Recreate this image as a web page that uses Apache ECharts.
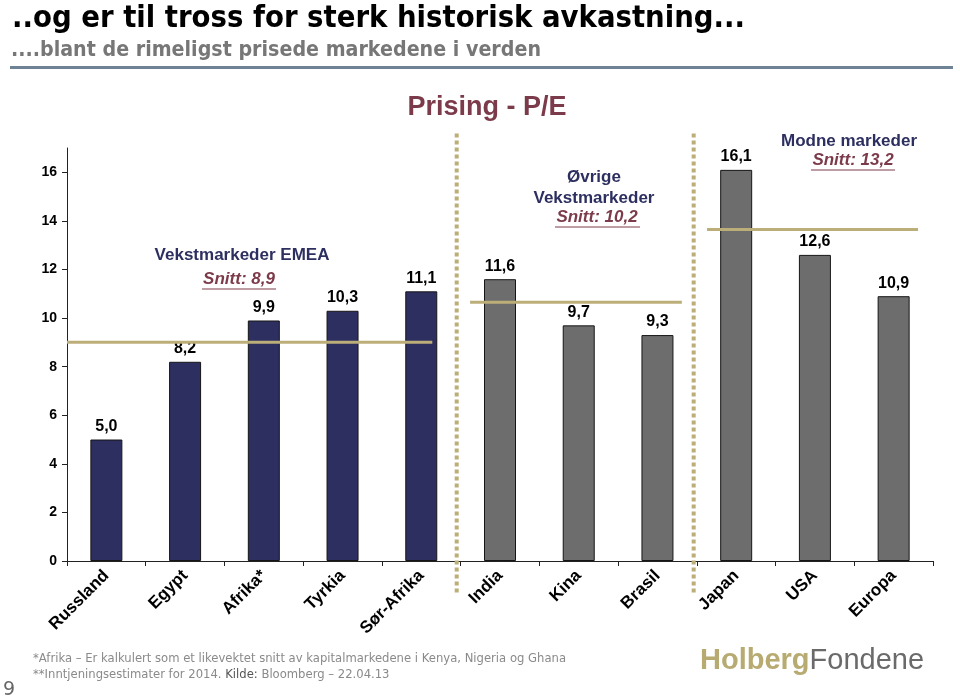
<!DOCTYPE html>
<html>
<head>
<meta charset="utf-8">
<script src="https://cdn.jsdelivr.net/npm/echarts@6/dist/echarts.min.js"></script>
<style>html,body{margin:0;padding:0;background:#fff}#c{width:960px;height:700px}</style>
</head>
<body>
<div id="c"></div>
<script>
// ---- data ----
const categories = ['Russland','Egypt','Afrika*','Tyrkia','Sør-Afrika','India','Kina','Brasil','Japan','USA','Europa'];
const peValues = [5.0, 8.2, 9.9, 10.3, 11.1, 11.6, 9.7, 9.3, 16.1, 12.6, 10.9];
const groupOfCategory = [0,0,0,0,0,1,1,1,2,2,2];
const yTicks = [0,2,4,6,8,10,12,14,16];
// average lines (level as drawn, span in category units from axis start)
const avgLevels = [9.0, 10.65, 13.65];
const avgStart = [0.0, 5.12, 8.13];
const avgEnd = [4.64, 7.81, 10.81];
// dotted group separators (category units from axis start), vertical extent in y-values
const separatorPos = [4.95, 7.96];
const separatorSpan = [-1.3, 17.65];
const groupNames = ['Vekstmarkeder EMEA', 'Øvrige\nVekstmarkeder', 'Modne markeder'];
const groupAvgText = ['Snitt: 8,9', 'Snitt: 10,2', 'Snitt: 13,2'];

const NAVY = '#2d2f60', GREY = '#6d6d6d', KHAKI = '#bcae78', MAROON = '#7c3b4a';
const barColors = [NAVY, GREY, GREY];

const barData = peValues.map((v, i) => ({
  value: v,
  itemStyle: { color: barColors[groupOfCategory[i]] }
}));

const lineSeries = [];
avgLevels.forEach((lv, i) => {
  lineSeries.push({
    type: 'line', xAxisIndex: 1, yAxisIndex: 0, symbol: 'none', silent: true,
    data: [[avgStart[i], lv], [avgEnd[i], lv]],
    lineStyle: { color: KHAKI, width: 3 }, z: 5, animation: false
  });
});
separatorPos.forEach((x) => {
  lineSeries.push({
    type: 'line', xAxisIndex: 1, yAxisIndex: 0, symbol: 'none', silent: true, clip: false,
    data: [[x, separatorSpan[0]], [x, separatorSpan[1]]],
    lineStyle: { color: KHAKI, width: 4, type: [4, 3], cap: 'butt' }, z: 6, animation: false
  });
});

const FONT = 'Liberation Sans, Arial, sans-serif';
const DJ = 'DejaVu Sans, sans-serif';

// fit text to a target width by horizontal scaling
const mctx = document.createElement('canvas').getContext('2d');
function fitScale(text, font, width) {
  mctx.font = font;
  return width / mctx.measureText(text).width;
}
const titleText = '..og er til tross for sterk historisk avkastning...';
const titleFont = 'bold 31px ' + DJ;
const subText = '....blant de rimeligst prisede markedene i verden';
const subFont = 'bold 22px ' + DJ;
const foot1 = '*Afrika – Er kalkulert som et likevektet snitt av kapitalmarkedene i Kenya, Nigeria og Ghana';
const foot2a = '**Inntjeningsestimater for 2014. ';
const foot2b = 'Kilde:';
const foot2c = ' Bloomberg – 22.04.13';
const footFont = '13px ' + DJ;
const fScale = fitScale(foot1, footFont, 533);

const chart = echarts.init(document.getElementById('c'), null, { renderer: 'canvas' });
chart.setOption({
  animation: false,
  backgroundColor: '#fff',
  grid: { left: 67, right: 27, top: 148, bottom: 139, containLabel: false },
  xAxis: [{
    type: 'category', data: categories,
    axisLine: { lineStyle: { color: '#222', width: 1 } },
    axisTick: { show: true, length: 5, lineStyle: { color: '#222' } },
    axisLabel: { rotate: 45, margin: 12, fontFamily: FONT, fontWeight: 'bold', fontSize: 17, color: '#000', interval: 0 }
  }, {
    type: 'value', min: 0, max: 11, show: false
  }],
  yAxis: {
    type: 'value', min: 0, max: 17, interval: 2,
    axisLine: { show: true, lineStyle: { color: '#222', width: 1 } },
    axisTick: { show: true, length: 5, lineStyle: { color: '#222' }, customValues: yTicks },
    axisLabel: { fontFamily: FONT, fontWeight: 'bold', fontSize: 14, color: '#000', margin: 10, customValues: yTicks },
    splitLine: { show: false }
  },
  title: [{
    text: 'Prising - P/E',
    left: 482, top: 89, textAlign: 'center',
    textStyle: { fontFamily: FONT, fontWeight: 'bold', fontSize: 27, color: MAROON }
  }],
  series: [{
    type: 'bar', data: barData, barWidth: 32, z: 3,
    itemStyle: { borderColor: '#161616', borderWidth: 1 },
    label: {
      show: true, position: 'top', distance: 5,
      fontFamily: FONT, fontWeight: 'bold', fontSize: 16, color: '#000',
      formatter: p => p.value.toFixed(1).replace('.', ',')
    }
  }].concat(lineSeries),
  graphic: [
    // titles
    { type: 'text', x: 12, y: 3, scaleX: fitScale(titleText, titleFont, 733), style: { text: titleText, font: titleFont, fill: '#000', verticalAlign: 'top' } },
    { type: 'text', x: 11, y: 39, scaleX: fitScale(subText, subFont, 530), style: { text: subText, font: subFont, fill: '#777', verticalAlign: 'top' } },
    // divider under subtitle
    { type: 'rect', shape: { x: 10, y: 66, width: 943, height: 3 }, style: { fill: '#6f8396' } },
    // group annotations
    { type: 'text', x: 242, y: 255, style: { text: groupNames[0], font: 'bold 17px ' + FONT, fill: NAVY, align: 'center', verticalAlign: 'middle' } },
    { type: 'text', x: 239, y: 279, style: { text: groupAvgText[0], font: 'italic bold 17px ' + FONT, fill: MAROON, align: 'center', verticalAlign: 'middle' } },
    { type: 'line', shape: { x1: 202, y1: 289, x2: 276, y2: 289 }, style: { stroke: MAROON, lineWidth: 1 } },
    { type: 'text', x: 594, y: 188, style: { text: groupNames[1], font: 'bold 17px ' + FONT, fill: NAVY, align: 'center', verticalAlign: 'middle', lineHeight: 21 } },
    { type: 'text', x: 597, y: 217, style: { text: groupAvgText[1], font: 'italic bold 17px ' + FONT, fill: MAROON, align: 'center', verticalAlign: 'middle' } },
    { type: 'line', shape: { x1: 555, y1: 227, x2: 640, y2: 227 }, style: { stroke: MAROON, lineWidth: 1 } },
    { type: 'text', x: 849, y: 141, style: { text: groupNames[2], font: 'bold 17px ' + FONT, fill: NAVY, align: 'center', verticalAlign: 'middle' } },
    { type: 'text', x: 853, y: 160, style: { text: groupAvgText[2], font: 'italic bold 17px ' + FONT, fill: MAROON, align: 'center', verticalAlign: 'middle' } },
    { type: 'line', shape: { x1: 811, y1: 170, x2: 895, y2: 170 }, style: { stroke: MAROON, lineWidth: 1 } },
    // footnotes
    { type: 'text', x: 33, y: 659, scaleX: fScale, style: { text: foot1, font: footFont, fill: '#8a8a8a', verticalAlign: 'middle' } },
    { type: 'text', x: 33, y: 675, scaleX: fScale, style: { text: '{a|' + foot2a + '}{b|' + foot2b + '}{a|' + foot2c + '}', rich: { a: { font: footFont, fill: '#8a8a8a' }, b: { font: footFont, fill: '#555' } }, verticalAlign: 'middle' } },
    { type: 'text', x: 3, y: 690, style: { text: '9', font: '19px ' + DJ, fill: '#666', verticalAlign: 'middle' } },
    // logo
    { type: 'text', x: 700, y: 661, style: { rich: { a: { font: 'bold 29px ' + FONT, fill: '#b7ab72' }, b: { font: '29px ' + FONT, fill: '#6a6a6a' } }, text: '{a|Holberg}{b|Fondene}', verticalAlign: 'middle' } }
  ]
});
</script>
</body>
</html>
